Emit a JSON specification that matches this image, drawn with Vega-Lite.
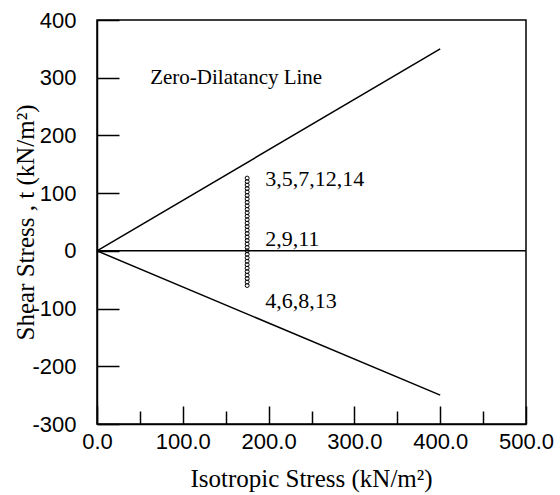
{
  "$schema": "https://vega.github.io/schema/vega-lite/v6.json",
  "width": 429,
  "height": 404,
  "autosize": {"type": "none"},
  "padding": {"left": 97, "top": 20, "right": 34, "bottom": 71},
  "background": "white",
  "config": {
    "view": {"stroke": "black", "strokeWidth": 1.5},
    "axis": {
      "domainColor": "black",
      "domainWidth": 1.5,
      "tickColor": "black",
      "tickWidth": 1.5,
      "grid": false,
      "labelFont": "Liberation Sans",
      "labelFontSize": 22,
      "labelColor": "black",
      "titleFont": "Liberation Serif",
      "titleFontSize": 25,
      "titleFontWeight": "normal",
      "titleColor": "black"
    }
  },
  "layer": [
    {
      "data": {"values": [
        {"p": 0, "t": 0, "s": "upper"}, {"p": 400, "t": 350, "s": "upper"},
        {"p": 0, "t": 0, "s": "lower"}, {"p": 400, "t": -250, "s": "lower"},
        {"p": 0, "t": 0, "s": "zero"}, {"p": 500, "t": 0, "s": "zero"}
      ]},
      "mark": {"type": "line", "color": "black", "strokeWidth": 1.5},
      "encoding": {
        "x": {
          "field": "p", "type": "quantitative",
          "scale": {"domain": [0, 500], "nice": false, "zero": false},
          "axis": {
            "title": "Isotropic Stress (kN/m²)",
            "values": [0, 50, 100, 150, 200, 250, 300, 350, 400, 450, 500],
            "labelExpr": "datum.value % 100 === 0 ? format(datum.value, '.1f') : ''",
            "tickSize": {"condition": {"test": "datum.value % 100 === 0", "value": -18}, "value": -13},
            "labelPadding": 25,
            "labelFlush": false,
            "labelOverlap": false,
            "titleX": 214,
            "titleY": 62,
            "titleAlign": "center",
            "titleBaseline": "alphabetic"
          }
        },
        "y": {
          "field": "t", "type": "quantitative",
          "scale": {"domain": [-300, 400], "nice": false, "zero": false},
          "axis": {
            "title": "Shear Stress , t (kN/m²)",
            "values": [-300, -250, -200, -150, -100, -50, 0, 50, 100, 150, 200, 250, 300, 350, 400],
            "labelExpr": "datum.value % 100 === 0 ? '' + datum.value : ''",
            "tickSize": {"condition": {"test": "datum.value % 100 === 0", "value": -22}, "value": -15},
            "labelPadding": 43,
            "labelFlush": false,
            "labelOverlap": false,
            "titleX": -72,
            "titleY": 202,
            "titleAngle": 270,
            "titleAlign": "center",
            "titleBaseline": "middle"
          }
        },
        "detail": {"field": "s"}
      }
    },
    {
      "data": {"values": [
        {"p": 175, "t": -60}, {"p": 175, "t": -54}, {"p": 175, "t": -48}, {"p": 175, "t": -42},
        {"p": 175, "t": -36}, {"p": 175, "t": -30}, {"p": 175, "t": -24}, {"p": 175, "t": -18},
        {"p": 175, "t": -12}, {"p": 175, "t": -6}, {"p": 175, "t": 0}, {"p": 175, "t": 6},
        {"p": 175, "t": 12}, {"p": 175, "t": 18}, {"p": 175, "t": 24}, {"p": 175, "t": 30},
        {"p": 175, "t": 36}, {"p": 175, "t": 42}, {"p": 175, "t": 48}, {"p": 175, "t": 54},
        {"p": 175, "t": 60}, {"p": 175, "t": 66}, {"p": 175, "t": 72}, {"p": 175, "t": 78},
        {"p": 175, "t": 84}, {"p": 175, "t": 90}, {"p": 175, "t": 96}, {"p": 175, "t": 102},
        {"p": 175, "t": 108}, {"p": 175, "t": 114}, {"p": 175, "t": 120}, {"p": 175, "t": 126}
      ]},
      "mark": {"type": "point", "shape": "circle", "filled": false, "color": "black", "strokeWidth": 1, "size": 16, "opacity": 1},
      "encoding": {
        "x": {"field": "p", "type": "quantitative"},
        "y": {"field": "t", "type": "quantitative"}
      }
    },
    {
      "data": {"values": [{"p": 62, "t": 289, "label": "Zero-Dilatancy Line"}]},
      "mark": {"type": "text", "align": "left", "baseline": "alphabetic", "font": "Liberation Serif", "fontSize": 21, "color": "black"},
      "encoding": {
        "x": {"field": "p", "type": "quantitative"},
        "y": {"field": "t", "type": "quantitative"},
        "text": {"field": "label"}
      }
    },
    {
      "data": {"values": [
        {"p": 196, "t": 113, "label": "3,5,7,12,14"},
        {"p": 196, "t": 9, "label": "2,9,11"},
        {"p": 196, "t": -99, "label": "4,6,8,13"}
      ]},
      "mark": {"type": "text", "align": "left", "baseline": "alphabetic", "font": "Liberation Serif", "fontSize": 22, "color": "black"},
      "encoding": {
        "x": {"field": "p", "type": "quantitative"},
        "y": {"field": "t", "type": "quantitative"},
        "text": {"field": "label"}
      }
    }
  ]
}
